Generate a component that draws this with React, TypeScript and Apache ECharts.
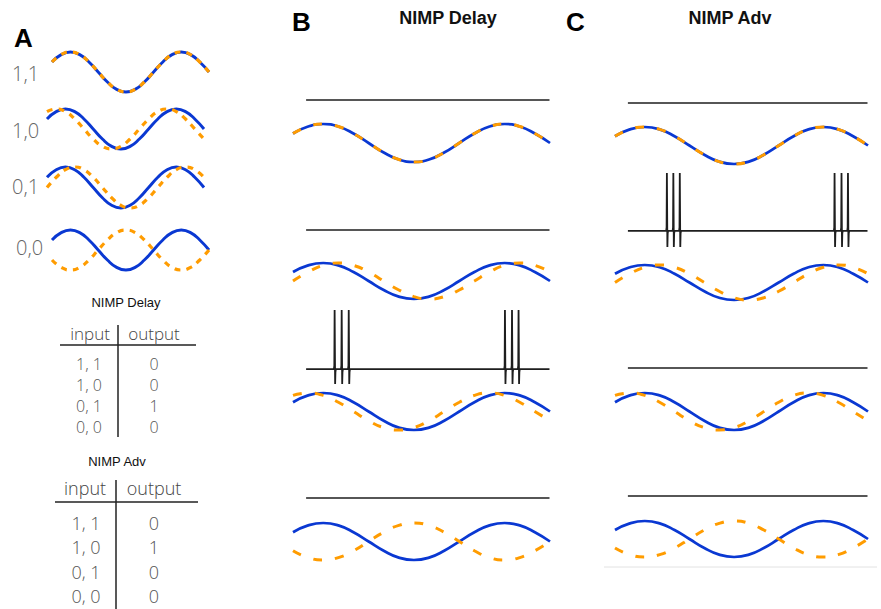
import React, { useEffect, useRef } from 'react';
import * as echarts from 'echarts';

// ---- data (phase in degrees, normalised oscillation values) ----
const PHASE_DEG = [30, 60, 90, 120, 150, 180, 210, 240, 270, 300, 330, 360, 390, 420, 450, 480, 510, 540];
const REFERENCE_WAVE = [0.5, 0.87, 1, 0.87, 0.5, 0, -0.5, -0.87, -1, -0.87, -0.5, 0, 0.5, 0.87, 1, 0.87, 0.5, 0];
const LEADING_WAVE = [0.87, 1, 0.87, 0.5, 0, -0.5, -0.87, -1, -0.87, -0.5, 0, 0.5, 0.87, 1, 0.87, 0.5, 0, -0.5];
const LAGGING_WAVE = [0, 0.5, 0.87, 1, 0.87, 0.5, 0, -0.5, -0.87, -1, -0.87, -0.5, 0, 0.5, 0.87, 1, 0.87, 0.5];
const ANTIPHASE_WAVE = [-0.5, -0.87, -1, -0.87, -0.5, 0, 0.5, 0.87, 1, 0.87, 0.5, 0, -0.5, -0.87, -1, -0.87, -0.5, 0];

const ROW_INPUTS = ['1,1', '1,0', '0,1', '0,0'];
const TABLE_INPUTS = ['1, 1', '1, 0', '0, 1', '0, 0'];
const DELAY_OUTPUT = [0, 0, 1, 0];
const ADV_OUTPUT = [0, 1, 0, 0];

const DELAY_SPIKES = [113, 127, 141, 451, 465, 478];
const ADV_SPIKES = [135, 148, 161, 473, 487, 500];
const TRACE_RANGE = [56, 539];

const A_SECOND = [REFERENCE_WAVE, LEADING_WAVE, LAGGING_WAVE, ANTIPHASE_WAVE];
const BC_SECOND = [REFERENCE_WAVE, LAGGING_WAVE, LEADING_WAVE, ANTIPHASE_WAVE];

// ---- styles ----
const BLUE = '#0a38d2';
const ORANGE = '#ff9c00';
const INK = '#1e1e1e';
const LIGHT_FONT = '"Open Sans", "Noto Sans", sans-serif';
const BOLD_FONT = '"Liberation Sans", Arial, sans-serif';

function zip(xs: number[], ys: number[]) {
  return xs.map((x, i) => [x, ys[i]]);
}

function buildTrace(spikes: number[], low: number) {
  const pts: number[][] = [[TRACE_RANGE[0], 0]];
  spikes.forEach((t) => {
    pts.push([t - 1.8, 0], [t - 1.0, 0.06], [t - 0.4, 1], [t + 0.6, low], [t + 1.2, -0.05], [t + 2.0, 0]);
  });
  pts.push([TRACE_RANGE[1], 0]);
  return pts;
}

export default function App() {
  const ref = useRef<HTMLDivElement>(null);

  useEffect(() => {
    if (!ref.current) return;
    const chart = echarts.init(ref.current, undefined, { renderer: 'svg' });

    const grids: any[] = [];
    const xAxes: any[] = [];
    const yAxes: any[] = [];
    const series: any[] = [];

    const addGrid = (left: number, top: number, width: number, height: number, ymin: number, ymax: number) => {
      const idx = grids.length;
      grids.push({ left, top, width, height, containLabel: false, show: false });
      xAxes.push({ type: 'value', gridIndex: idx, min: 30, max: 540, show: false });
      yAxes.push({ type: 'value', gridIndex: idx, min: ymin, max: ymax, show: false });
      return idx;
    };

    const addWaves = (idx: number, second: number[], dash: number[], width: number) => {
      series.push({
        type: 'line', xAxisIndex: idx, yAxisIndex: idx, data: zip(PHASE_DEG, REFERENCE_WAVE),
        smooth: 0.5, showSymbol: false, clip: false, silent: true,
        lineStyle: { color: BLUE, width },
      });
      series.push({
        type: 'line', xAxisIndex: idx, yAxisIndex: idx, data: zip(PHASE_DEG, second),
        smooth: 0.5, showSymbol: false, clip: false, silent: true,
        lineStyle: { color: ORANGE, width: width + 0.3, type: dash },
      });
    };

    const addTrace = (idx: number, data: number[][], width: number) => {
      series.push({
        type: 'line', xAxisIndex: idx, yAxisIndex: idx, data,
        showSymbol: false, clip: false, silent: true,
        lineStyle: { color: INK, width },
      });
    };

    // Panel A
    const aLayout = [
      [52, 52, 157, 40], [47, 109, 157, 40], [47, 167, 157, 41], [52, 230, 157, 40],
    ];
    aLayout.forEach((g, i) => {
      const idx = addGrid(g[0], g[1], g[2], g[3], -1, 1);
      addWaves(idx, A_SECOND[i], [6, 6], 2.9);
    });

    // Panels B & C
    const panels = [
      {
        left: 293, width: 257,
        waveTops: [124, 263, 393, 523], waveH: [38, 36, 37, 37],
        lineY: [100, 230, 369, 498], spikeTop: 310, spikeLow: -0.25,
        outputs: DELAY_OUTPUT, spikes: DELAY_SPIKES,
      },
      {
        left: 615, width: 253,
        waveTops: [127, 265, 393, 521], waveH: [37, 35, 37, 36],
        lineY: [103, 231, 368, 496], spikeTop: 173, spikeLow: -0.28,
        outputs: ADV_OUTPUT, spikes: ADV_SPIKES,
      },
    ];
    panels.forEach((p) => {
      for (let i = 0; i < 4; i++) {
        if (p.outputs[i] === 1) {
          const idx = addGrid(p.left, p.spikeTop, p.width, 74, p.spikeLow, 1);
          addTrace(idx, buildTrace(p.spikes, p.spikeLow), 1.8);
        } else {
          const idx = addGrid(p.left, p.lineY[i] - 5, p.width, 10, -1, 1);
          addTrace(idx, buildTrace([], -1), 1.5);
        }
        const widx = addGrid(p.left, p.waveTops[i], p.width, p.waveH[i], -1, 1);
        addWaves(widx, BC_SECOND[i], [9, 13], 2.7);
      }
    });

    // Graphic texts and tables
    const graphic: any[] = [];
    const txt = (x: number, y: number, text: string, size: number, opts: any = {}) => {
      graphic.push({
        type: 'text', x, y, silent: true,
        style: {
          text, fontSize: size, fontFamily: opts.family || LIGHT_FONT,
          fontWeight: opts.weight || 300, fill: opts.fill || '#333',
          align: opts.align || 'center', verticalAlign: 'middle',
          lineHeight: opts.lineHeight || Math.round(size * 1.1),
        },
      });
    };
    const ln = (x1: number, y1: number, x2: number, y2: number, color = '#222', w = 1.5) => {
      graphic.push({ type: 'line', silent: true, shape: { x1, y1, x2, y2 }, style: { stroke: color, lineWidth: w } });
    };

    txt(14, 38, 'A', 26, { family: BOLD_FONT, weight: 'bold', fill: '#000', align: 'left' });
    txt(292, 22, 'B', 26, { family: BOLD_FONT, weight: 'bold', fill: '#000', align: 'left' });
    txt(566, 22, 'C', 26, { family: BOLD_FONT, weight: 'bold', fill: '#000', align: 'left' });
    txt(448, 18, 'NIMP Delay', 18, { family: BOLD_FONT, weight: 'bold', fill: '#111' });
    txt(730, 18, 'NIMP Adv', 18, { family: BOLD_FONT, weight: 'bold', fill: '#111' });

    const labelPos = [[12, 73], [12, 130], [12, 186], [16, 247]];
    ROW_INPUTS.forEach((t, i) => {
      txt(labelPos[i][0], labelPos[i][1], t, 20, { align: 'left', fill: '#666' });
    });

    // Delay table
    txt(126, 302, 'NIMP Delay', 13, { family: BOLD_FONT, weight: 'normal', fill: '#111' });
    txt(90, 333, 'input', 17, { fill: '#444', lineHeight: 18 });
    txt(154, 333, 'output', 17, { fill: '#444', lineHeight: 18 });
    ln(60, 345, 196, 345);
    ln(118, 325, 118, 437);
    const dRows = [364, 385, 406, 427];
    TABLE_INPUTS.forEach((t, i) => {
      txt(89, dRows[i], t, 16, { fill: '#555', lineHeight: 17 });
      txt(154, dRows[i], String(DELAY_OUTPUT[i]), 16, { fill: '#555', lineHeight: 17 });
    });

    // Adv table
    txt(117, 461, 'NIMP Adv', 13, { family: BOLD_FONT, weight: 'normal', fill: '#111' });
    txt(85, 488, 'input', 18, { fill: '#444', lineHeight: 20 });
    txt(154, 488, 'output', 18, { fill: '#444', lineHeight: 20 });
    ln(55, 502, 198, 502);
    ln(116, 480, 116, 609);
    const aRows = [523, 547, 572, 596];
    TABLE_INPUTS.forEach((t, i) => {
      txt(86, aRows[i], t, 18, { fill: '#555', lineHeight: 20 });
      txt(154, aRows[i], String(ADV_OUTPUT[i]), 18, { fill: '#555', lineHeight: 20 });
    });

    // faint frame line under panel C
    ln(604, 567, 877, 567, '#e2e2e2', 1);

    chart.setOption({
      animation: false,
      backgroundColor: '#fff',
      grid: grids,
      xAxis: xAxes,
      yAxis: yAxes,
      series,
      graphic,
    });

    return () => chart.dispose();
  }, []);

  return <div ref={ref} style={{ position: 'fixed', left: 0, top: 0, width: 881, height: 609 }} />;
}
